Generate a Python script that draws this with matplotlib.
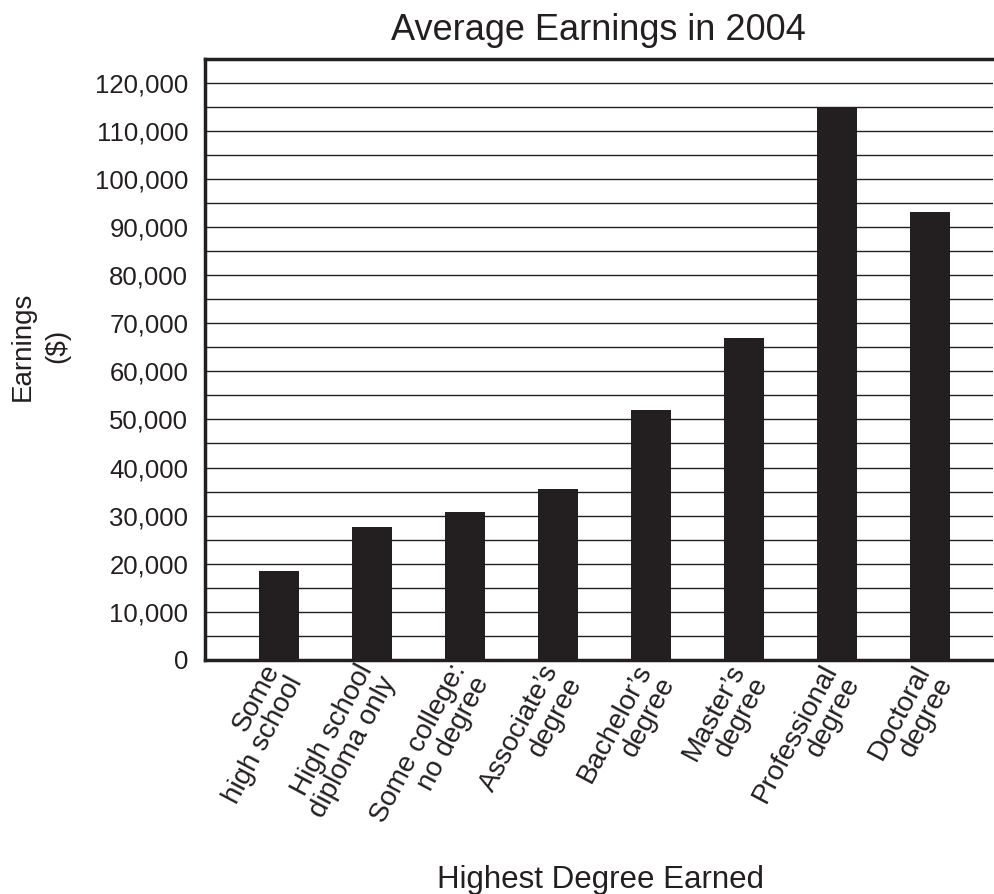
import numpy as np
import matplotlib
matplotlib.use("Agg")
import matplotlib.pyplot as plt
from matplotlib.transforms import ScaledTranslation

plt.rcParams['font.family'] = ['Liberation Sans', 'DejaVu Sans']

degrees = ["Some\nhigh school", "High school\ndiploma only", "Some college:\nno degree",
           "Associate\u2019s\ndegree", "Bachelor\u2019s\ndegree", "Master\u2019s\ndegree",
           "Professional\ndegree", "Doctoral\ndegree"]
earnings = [18500, 27600, 30700, 35600, 52000, 67000, 115100, 93100]
y_labels = [0, 10000, 20000, 30000, 40000, 50000, 60000, 70000, 80000, 90000, 100000, 110000, 120000]

ink = '#231f20'

fig = plt.figure(figsize=(9.95, 8.94), dpi=100)
ax = fig.add_axes([0.206, 0.262, 0.792, 0.672])

x = np.arange(len(degrees))
for y in range(5000, 125000, 5000):
    ax.axhline(y, color=ink, linewidth=1.0, zorder=0)
ax.bar(x, earnings, width=0.43, color=ink, zorder=2)

ax.set_xlim(-0.8, 7.68)
ax.set_ylim(0, 125000)
ax.set_yticks(y_labels)
ax.set_yticklabels([f"{v:,}" for v in y_labels], fontsize=18.5, color=ink)
ax.tick_params(axis='y', length=0, pad=12)

ax.set_xticks(x)
ax.set_xticklabels(degrees, fontsize=20, color=ink, rotation=62, ha='right', va='top',
                   rotation_mode='anchor', multialignment='right', linespacing=1.0)
ax.tick_params(axis='x', length=0, pad=6)
# nudge the slanted labels up and left
shift = ScaledTranslation(-0.17, 0.08, fig.dpi_scale_trans)
for lbl in ax.get_xticklabels():
    lbl.set_transform(lbl.get_transform() + shift)

for side in ['top', 'left', 'bottom']:
    ax.spines[side].set_linewidth(2.5)
    ax.spines[side].set_color(ink)
ax.spines['right'].set_visible(False)

fig.text(0.601, 0.966, "Average Earnings in 2004", fontsize=26, color=ink, ha='center', va='center')
fig.text(0.040, 0.613, "Earnings\n($)", fontsize=20, color=ink, ha='center', va='center',
         rotation=90, multialignment='center', linespacing=1.45)
fig.text(0.604, 0.007, "Highest Degree Earned", fontsize=22.5, color=ink, ha='center', va='baseline')

fig.savefig("out.png", dpi=100)
